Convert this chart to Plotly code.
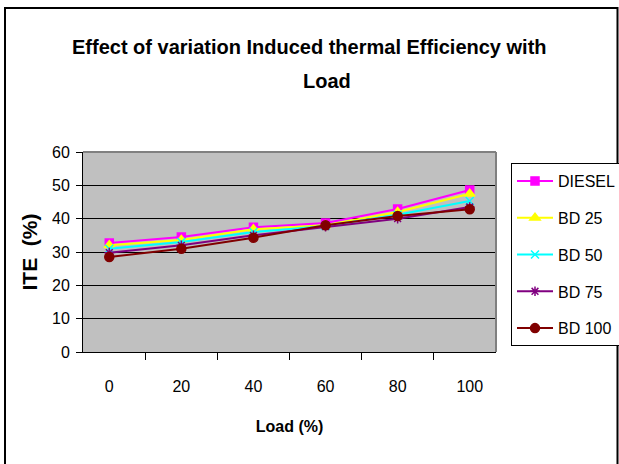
import plotly.graph_objects as go

loads = ["0", "20", "40", "60", "80", "100"]
diesel = [32.7, 34.5, 37.4, 38.7, 42.9, 48.6]
bd25 = [32.0, 33.6, 36.8, 38.0, 42.0, 47.5]
bd50 = [31.0, 33.0, 36.0, 37.8, 41.2, 45.3]
bd75 = [29.8, 32.0, 35.0, 37.6, 40.0, 43.5]
bd100 = [28.5, 31.0, 34.3, 38.0, 40.8, 42.8]
y_ticks = [0, 10, 20, 30, 40, 50, 60]

FONT = "Liberation Sans, Arial, sans-serif"

series = [
    ("DIESEL", diesel, "#FF00FF", "square", 8),
    ("BD 25", bd25, "#FFFF00", "triangle-up", 9),
    ("BD 50", bd50, "#00FFFF", "x-thin-open", 8),
    ("BD 75", bd75, "#800080", "asterisk-open", 8),
    ("BD 100", bd100, "#800000", "circle", 9),
]

fig = go.Figure()
for i, (name, vals, color, sym, size) in enumerate(series):
    fig.add_trace(go.Scatter(
        x=loads, y=vals, name=name, mode="lines+markers",
        line=dict(color=color, width=2),
        marker=dict(symbol=sym, size=size, color=color,
                    line=dict(color=color, width=1.5)),
        legendgroup=f"g{i}",
    ))

L, R, T, B = 83, 496, 152, 352
W, H = 619, 464
pw, ph = R - L, B - T

def px_x(x):
    return (x - L) / pw

def px_y(y):
    return (B - y) / ph

fig.update_layout(
    width=W, height=H,
    margin=dict(l=L, r=W - R, t=T, b=H - B, pad=0, autoexpand=False),
    paper_bgcolor="white",
    plot_bgcolor="#C0C0C0",
    font=dict(family=FONT, size=16, color="black"),
    showlegend=True,
    legend=dict(
        x=px_x(511), y=px_y(163), xanchor="left", yanchor="top",
        bordercolor="black", borderwidth=1, bgcolor="white",
        font=dict(family=FONT, size=16, color="black"),
        traceorder="grouped", tracegroupgap=13,
        itemwidth=36,
    ),
    xaxis=dict(
        type="category", tickson="boundaries", ticks="outside", ticklen=7,
        tickcolor="black", showline=True, linecolor="black", linewidth=1,
        showgrid=False, tickfont=dict(size=16), ticklabelstandoff=20,
        title=dict(text="<b>Load (%)</b>", font=dict(size=16), standoff=26),
    ),
    yaxis=dict(
        range=[0, 60], tickvals=y_ticks, ticks="outside", ticklen=6,
        tickcolor="black", showline=True, linecolor="black", linewidth=1,
        showgrid=True, gridcolor="black", gridwidth=1,
        tickfont=dict(size=16), zeroline=False, ticklabelstandoff=3,
        title=dict(text="<b>ITE  (%)</b>", font=dict(size=21), standoff=8),
    ),
    annotations=[
        dict(text="<b>Effect of variation Induced thermal Efficiency with</b>",
             xref="paper", yref="paper", x=px_x(309), y=px_y(47),
             xanchor="center", yanchor="middle", showarrow=False,
             font=dict(size=20, family=FONT)),
        dict(text="<b>Load</b>",
             xref="paper", yref="paper", x=px_x(327), y=px_y(81),
             xanchor="center", yanchor="middle", showarrow=False,
             font=dict(size=20, family=FONT)),
    ],
    shapes=[
        dict(type="rect", xref="paper", yref="paper",
             x0=px_x(5), x1=px_x(617.5), y0=px_y(470), y1=px_y(8),
             line=dict(color="black", width=2), layer="above"),
        dict(type="line", xref="paper", yref="paper",
             x0=0, x1=1, y0=1, y1=1, line=dict(color="#808080", width=2), layer="above"),
        dict(type="line", xref="paper", yref="paper",
             x0=1, x1=1, y0=0, y1=1, line=dict(color="#808080", width=2), layer="above"),
    ],
)

fig.write_html("out.html")
